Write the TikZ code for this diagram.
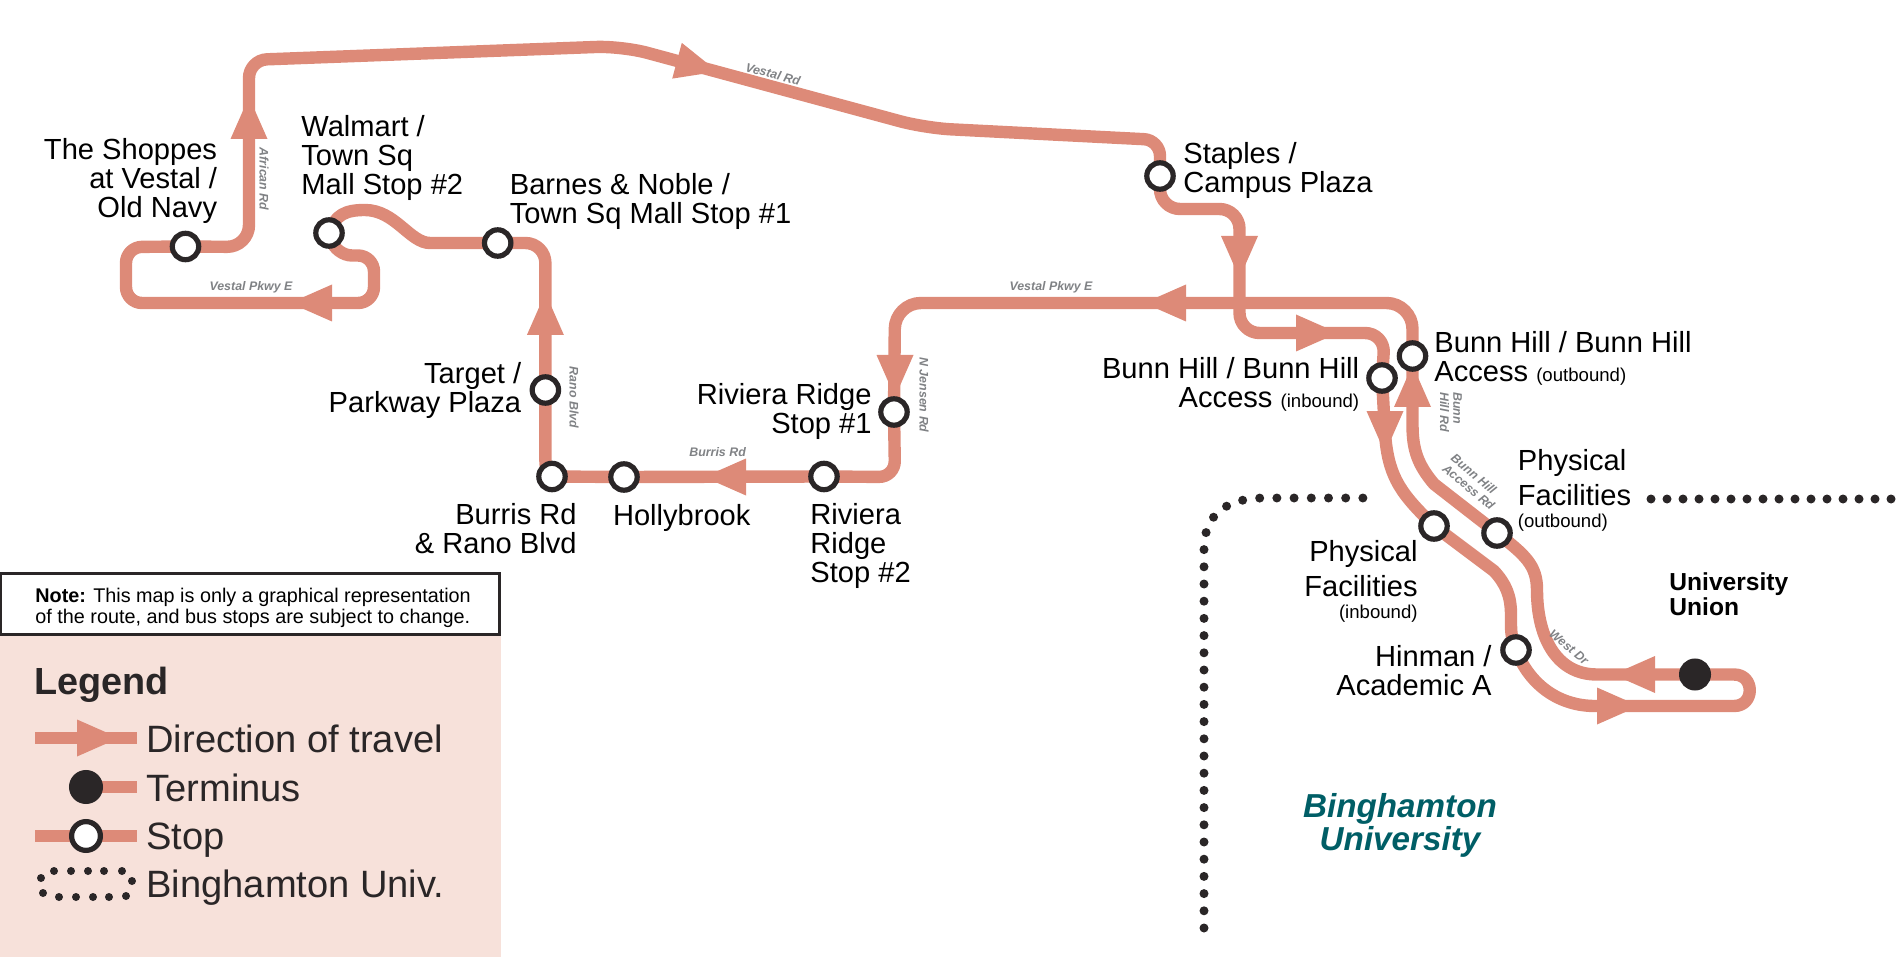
\documentclass[tikz,border=0pt]{standalone}
\usepackage{fontspec}
\setmainfont{Liberation Sans}
\usetikzlibrary{backgrounds}

\definecolor{routecol}{HTML}{DD8A78}
\definecolor{legendcol}{HTML}{F7E1DA}
\definecolor{darkcol}{HTML}{2A2627}
\definecolor{roadcol}{HTML}{808285}
\definecolor{campuscol}{HTML}{005E66}
\newcommand{\dirnote}[1]{{\fontsize{9.3}{10}\selectfont #1}}

\begin{document}
\begin{tikzpicture}[x=0.5pt, y=-0.5pt,
  stop/.style = {draw=darkcol, fill=white, circle, line width=2.6pt, minimum size=13.2pt, inner sep=0pt},
  terminus/.style = {draw=darkcol, fill=darkcol, circle, line width=2.6pt, minimum size=13.4pt, inner sep=0pt},
  route/.style = {draw=routecol, line width=6.2pt, line join=round},
  curve/.style = {route, rounded corners=8pt},
  place/.style = {inner sep=0pt, align=left, font=\fontsize{14.55}{14.5}\selectfont},
  placer/.style = {place, align=right},
  road/.style = {inner sep=0pt, text=roadcol, align=left, font=\fontsize{6.2}{6.6}\selectfont\bfseries\itshape},
  legtext/.style = {inner sep=0pt, anchor=base west, text=darkcol, font=\fontsize{19.05}{20}\selectfont},
  univ/.style = {draw=darkcol, line width=4.5pt, line cap=round},
  pics/head/.style = {code={\fill[routecol] (12,0) -- (-30,18.5) -- (-30,-18.5) -- cycle;}}]
\useasboundingbox (0,0) rectangle (1902,957);

\node[stop] (shoppes) at (185.5,246.5) {};
\node[stop] (walmart) at (329,233) {};
\node[stop] (barnes) at (497.7,243) {};
\node[stop] (target) at (545.4,390) {};
\node[stop] (burris) at (552,476.5) {};
\node[stop] (holly) at (624,477) {};
\node[stop] (riv2) at (824,476.5) {};
\node[stop] (riv1) at (894,412) {};
\node[stop] (staples) at (1160,176) {};
\node[stop] (bhout) at (1412.5,356) {};
\node[stop] (bhin) at (1382,378) {};
\node[stop] (physin) at (1434,526) {};
\node[stop] (physout) at (1497,533) {};
\node[stop] (hinman) at (1516,650) {};
\node[terminus] (union) at (1695,674.5) {};

\begin{scope}[on background layer]
\fill[legendcol] (0,634) rectangle (501,957);
\draw[curve] (walmart.center) -- (336,255.5) -- (374,255.5) -- (374,303) -- (126,303) -- (126,247) -- (shoppes.center);
\draw[curve, rounded corners=11pt] (shoppes.center) -- (249,247) [rounded corners=9pt] -- (249,60) [rounded corners=13pt] -- (622,46) -- (925,128) [rounded corners=8pt] -- (1160,140) -- (staples.center);
\draw[curve, rounded corners=10pt] (staples.center) -- (1160,209) -- (1239.5,209) -- (1239.5,333) -- (1385,333) -- (bhin.center);
\draw[route] (bhin.center) -- (1385,433) .. controls (1388,480) and (1404,496) .. (physin.center);
\draw[route] (physin.center) -- (1494,571) .. controls (1506,584) and (1511,596) .. (1511,615) -- (1511,625) .. controls (1511,635) and (1513,643) .. (hinman.center);
\draw[route] (hinman.center) .. controls (1530,686) and (1560,706) .. (1595,706) -- (1734,706) .. controls (1755,706) and (1755,674.5) .. (1734,674.5) -- (union.center);
\draw[route] (union.center) -- (1597,674.5) .. controls (1555,674.5) and (1537,635) .. (1537,590) .. controls (1537,565) and (1525,555) .. (physout.center);
\draw[route] (physout.center) -- (1434,484) .. controls (1418,465) and (1412.5,450) .. (1412.5,425) -- (bhout.center);
\draw[curve, rounded corners=13pt] (bhout.center) -- (1412.5,303) -- (895,303) -- (riv1.center);
\draw[curve] (riv1.center) -- (895,477) -- (riv2.center);
\draw[route] (riv2.center) -- (holly.center);
\draw[route] (holly.center) -- (burris.center);
\draw[route] (burris.center) .. controls (547,473) and (545.4,468) .. (545.4,460) -- (target.center);
\draw[curve, rounded corners=10pt] (target.center) -- (545.4,243) -- (barnes.center);
\draw[route] (barnes.center) -- (430,243) .. controls (410,243) and (395,210) .. (365,210) .. controls (345,210) and (335,215) .. (walmart.center);

\pic[rotate=90] at (249,109) {head};
\pic[rotate=-15] at (706,68.5) {head};
\pic[rotate=180] at (302,303) {head};
\pic[rotate=90] at (545.4,305) {head};
\pic[rotate=180] at (716,477) {head};
\pic[rotate=-90] at (895,385) {head};
\pic[rotate=-90] at (1239.5,266) {head};
\pic[rotate=180] at (1156,303) {head};
\pic at (1326,333) {head};
\pic[rotate=-90] at (1385,441) {head};
\pic[rotate=90] at (1412.5,377) {head};
\pic[rotate=180] at (1625,674.5) {head};
\pic at (1627,706) {head};
\end{scope}

\node[placer, anchor=east] (shoppestxt) at (217.5,181) {The Shoppes\\at Vestal /\\Old Navy};
\node[place, anchor=west] (walmarttxt) at (301,158) {Walmart /\\Town Sq\\Mall Stop \#2};
\node[place, anchor=west] (barnestxt) at (509.5,201) {Barnes \& Noble /\\Town Sq Mall Stop \#1};
\node[placer, anchor=east] (targettxt) at (521.6,390) {Target /\\Parkway Plaza};
\node[placer, anchor=east] (riv1txt) at (872,411) {Riviera Ridge\\Stop \#1};
\node[placer, anchor=east] (burristxt) at (577,529) {Burris Rd\\\& Rano Blvd};
\node[place, anchor=west] (hollytxt) at (612.6,517.5) {Hollybrook};
\node[place, anchor=west] (riv2txt) at (810,546) {Riviera\\Ridge\\Stop \#2};
\node[place, anchor=west] (staplestxt) at (1183,170.5) {Staples /\\Campus Plaza};
\node[place, anchor=west] (bhouttxt) at (1434,358) {Bunn Hill / Bunn Hill\\Access \dirnote{(outbound)}};
\node[placer, anchor=east] (bhintxt) at (1359.6,384) {Bunn Hill / Bunn Hill\\Access \dirnote{(inbound)}};
\node[place, anchor=west] (physouttxt) at (1517.5,490.5) {Physical\\[3pt]Facilities\\[-3.5pt]\dirnote{(outbound)}};
\node[placer, anchor=east] (physintxt) at (1418,581.5) {Physical\\[3pt]Facilities\\[-3.5pt]\dirnote{(inbound)}};
\node[placer, anchor=east] (hinmantxt) at (1492,671) {Hinman /\\Academic A};
\node[inner sep=0pt, align=left, anchor=west, font=\fontsize{12.3}{12.7}\selectfont\bfseries] (uniontxt) at (1669,594) {University\\Union};
\node[inner sep=0pt, align=center, text=campuscol, font=\fontsize{16.6}{16.5}\selectfont\bfseries\itshape] (campustxt) at (1400,825.5) {Binghamton\\University};

\node[road, rotate=-90] (african) at (264,179) {African Rd};
\node[road, rotate=-15] (vestal) at (773,74) {Vestal Rd};
\node[road] (pkwyw) at (251,287) {Vestal Pkwy E};
\node[road, rotate=-90] (rano) at (574,397.5) {Rano Blvd};
\node[road] (burrisrd) at (717.6,452) {Burris Rd};
\node[road] (pkwye) at (1051,287) {Vestal Pkwy E};
\node[road, rotate=-90] (jensen) at (924,395) {N Jensen Rd};
\node[road, rotate=-90] (bunnhill) at (1451,412) {Bunn\\Hill Rd};
\node[road, rotate=-40] (bunnaccess) at (1473,482) {Bunn Hill\\Access Rd};
\node[road, rotate=-40] (westdr) at (1569,647) {West Dr};

\draw[univ, dash pattern=on 0pt off 8.6pt] (1204,928) -- (1204,549) .. controls (1204,520) and (1220,499) .. (1262,498) -- (1367,498);
\draw[univ, dash pattern=on 0pt off 8pt] (1651,499) -- (1891,499);

\node[draw=darkcol, fill=white, line width=1.5pt, minimum width=249.75pt, minimum height=30.5pt, inner sep=0pt, outer sep=0pt, anchor=north west] (notebox) at (0,573.5) {};
\node[inner sep=0pt, anchor=west, align=left, font=\fontsize{9.9}{10.4}\selectfont] (notetxt) at (35,608) {\textbf{Note:} This map is only a graphical representation\\of the route, and bus stops are subject to change.};

\node[inner sep=0pt, anchor=west, text=darkcol, font=\fontsize{18.9}{20}\selectfont\bfseries] (legendtxt) at (34,685) {Legend};
\node[terminus, minimum size=14.4pt] (legterm) at (86,787) {};
\node[stop, minimum size=14.4pt] (legstop) at (86,836) {};
\coordinate (legdira) at (35,738);
\coordinate (legdirb) at (137,738);
\coordinate (legterma) at (137,787);
\coordinate (legstopa) at (35,836);
\coordinate (legstopb) at (137,836);
\begin{scope}[on background layer]
\draw[route, line cap=butt] (legdira) -- (legdirb);
\draw[route] (legterm.center) -- (legterma);
\draw[route] (legstopa) -- (legstopb);
\pic at (107,738) {head};
\end{scope}
\foreach \x/\y in {54/871, 71/871, 88/871, 104/871, 122/871, 132/881, 41/878, 43/893, 59/897, 76/897, 93/897, 109/897, 126/896}
  \fill[darkcol] (\x,\y) circle (2pt);
\node[legtext] (legdirtxt) at (146,752.7) {Direction of travel};
\node[legtext] (legtermtxt) at (146,801.7) {Terminus};
\node[legtext] (legstoptxt) at (146,849) {Stop};
\node[legtext] (leguntxt) at (146,897.7) {Binghamton Univ.};
\end{tikzpicture}
\end{document}
